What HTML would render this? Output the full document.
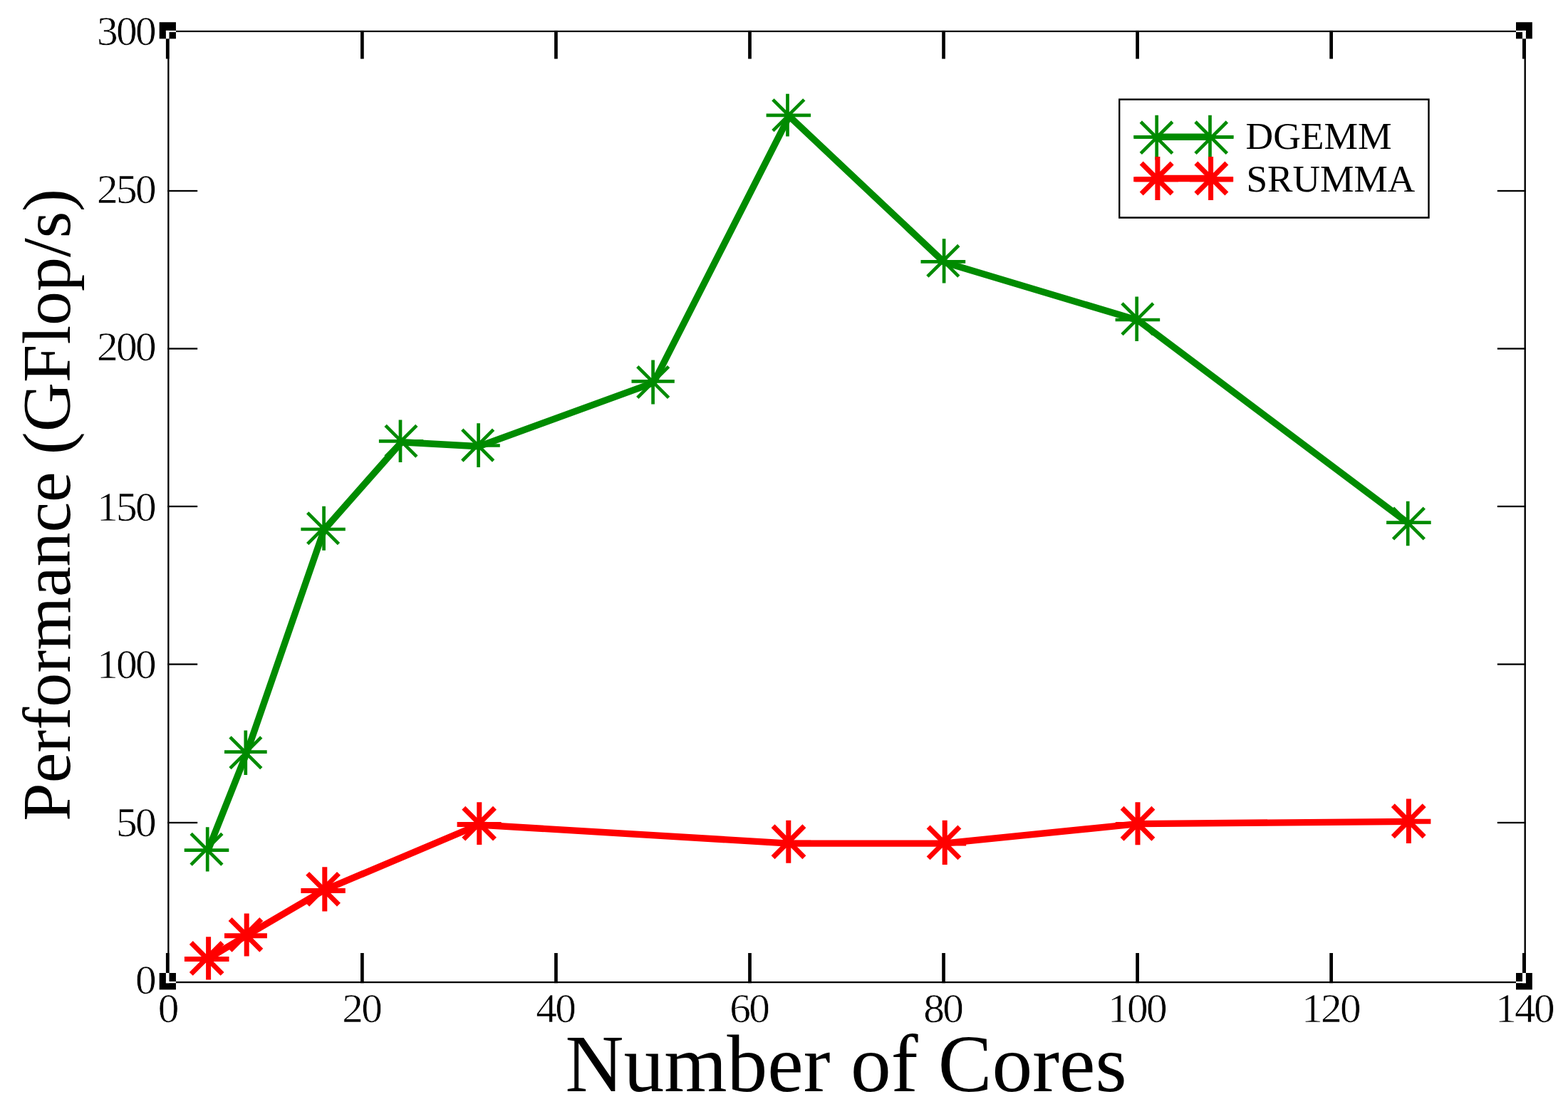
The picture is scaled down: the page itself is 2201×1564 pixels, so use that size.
<!DOCTYPE html>
<html lang="en"><head><meta charset="utf-8"><title>Performance (GFlop/s) vs Number of Cores</title>
<style>html,body{margin:0;padding:0;background:#fff}body{width:2201px;height:1564px}svg{display:block}text{font-family:"Liberation Serif","Times New Roman",Times,serif;fill:#000}</style></head><body>
<svg width="2201" height="1564" viewBox="0 0 2201 1564">
<rect width="2201" height="1564" fill="#fff"/>
<g fill="none" stroke="#008b00" stroke-width="4.7"><polyline points="291.7,1194.4 346.1,1057.6 454.9,743.8 563.7,620.7 672.5,626.7 917.4,537.4 1107.8,163.2 1325.5,368.3 1597.5,449.8 1978.4,735.7" stroke-width="9.4" stroke-linejoin="bevel"/><path d="M258.7 1193.6H321.3M291.2 1161.3V1223.4M268.1 1170.4L311.9 1214.2M268.1 1214.2L311.9 1170.4"/><path d="M315.0 1055.7H374.7M344.8 1025.6V1087.9M323.0 1034.8L366.8 1078.7M323.0 1078.7L366.8 1034.8"/><path d="M422.4 743.0H484.8M454.6 710.8V772.7M431.7 719.9L475.5 763.6M431.7 763.6L475.5 719.9"/><path d="M531.9 619.4H594.2M562.0 589.4V649.1M541.1 597.4L584.9 641.1M541.1 641.1L584.9 597.4"/><path d="M639.6 625.5H701.8M671.6 594.2V656.1M648.8 603.2L692.6 647.0M648.8 647.0L692.6 603.2"/><path d="M886.5 535.4H946.8M916.6 505.4V567.6M894.8 514.6L938.6 558.4M894.8 558.4L938.6 514.6"/><path d="M1075.6 161.8H1138.1M1105.5 131.8V191.6M1084.9 139.8L1128.8 183.6M1084.9 183.6L1128.8 139.8"/><path d="M1292.5 367.4H1355.2M1325.1 335.2V397.5M1301.9 344.5L1345.8 388.2M1301.9 388.2L1345.8 344.5"/><path d="M1565.6 449.0H1628.2M1595.7 416.6V478.9M1575.0 425.9L1618.8 469.6M1575.0 469.6L1618.8 425.9"/><path d="M1946.1 733.7H2008.7M1976.2 703.7V766.2M1955.5 713.1L1999.3 756.9M1955.5 756.9L1999.3 713.1"/></g>
<g fill="none" stroke="#ff0000" stroke-width="7.0"><polyline points="291.1,1346.6 345.5,1313.7 454.3,1250.0 671.9,1158.0 1107.2,1184.1 1324.8,1184.1 1596.9,1156.6 1977.8,1153.4" stroke-width="9.4" stroke-linejoin="bevel"/><path d="M258.9 1346.5H321.5M292.6 1315.3V1375.6M268.3 1323.5L312.1 1367.4M268.3 1367.4L312.1 1323.5"/><path d="M315.0 1313.7H374.9M346.2 1282.4V1342.5M323.1 1290.5L366.8 1334.3M323.1 1334.3L366.8 1290.5"/><path d="M422.4 1250.5H484.8M455.8 1217.2V1279.4M431.7 1226.4L475.5 1270.2M431.7 1270.2L475.5 1226.4"/><path d="M641.6 1157.4H703.7M672.8 1126.2V1186.1M650.8 1134.2L694.5 1178.1M650.8 1178.1L694.5 1134.2"/><path d="M1075.8 1183.3H1138.2M1106.8 1151.8V1211.7M1085.1 1159.8L1128.9 1203.7M1085.1 1203.7L1128.9 1159.8"/><path d="M1293.8 1184.0H1356.2M1326.2 1151.8V1214.1M1303.1 1161.0L1346.9 1204.9M1303.1 1204.9L1346.9 1161.0"/><path d="M1565.8 1157.4H1628.2M1597.0 1126.2V1186.3M1575.1 1134.3L1618.9 1178.2M1575.1 1178.2L1618.9 1134.3"/><path d="M1946.1 1153.3H2008.4M1977.4 1121.5V1184.0M1955.3 1130.8L1999.2 1174.7M1955.3 1174.7L1999.2 1130.8"/></g>
<g fill="#000">
<rect x="235.20" y="42.90" width="2.30" height="1337.30" fill="#000"/>
<rect x="2139.50" y="42.90" width="2.40" height="1337.30" fill="#000"/>
<rect x="235.20" y="42.90" width="1906.70" height="2.20" fill="#000"/>
<rect x="235.20" y="1377.90" width="1906.70" height="2.30" fill="#000"/>
<rect x="232.90" y="42.90" width="4.60" height="39.70" fill="#000"/>
<rect x="232.90" y="1338.00" width="4.60" height="42.20" fill="#000"/>
<rect x="506.05" y="42.90" width="4.70" height="39.70" fill="#000"/>
<rect x="506.05" y="1338.00" width="4.70" height="42.20" fill="#000"/>
<rect x="778.10" y="42.90" width="4.70" height="39.70" fill="#000"/>
<rect x="778.10" y="1338.00" width="4.70" height="42.20" fill="#000"/>
<rect x="1050.15" y="42.90" width="4.70" height="39.70" fill="#000"/>
<rect x="1050.15" y="1338.00" width="4.70" height="42.20" fill="#000"/>
<rect x="1322.20" y="42.90" width="4.70" height="39.70" fill="#000"/>
<rect x="1322.20" y="1338.00" width="4.70" height="42.20" fill="#000"/>
<rect x="1594.25" y="42.90" width="4.70" height="39.70" fill="#000"/>
<rect x="1594.25" y="1338.00" width="4.70" height="42.20" fill="#000"/>
<rect x="1866.30" y="42.90" width="4.70" height="39.70" fill="#000"/>
<rect x="1866.30" y="1338.00" width="4.70" height="42.20" fill="#000"/>
<rect x="2137.00" y="42.90" width="4.90" height="39.70" fill="#000"/>
<rect x="2137.00" y="1338.00" width="4.90" height="42.20" fill="#000"/>
<rect x="235.20" y="1153.85" width="42.00" height="2.30" fill="#000"/>
<rect x="2101.80" y="1153.85" width="40.10" height="2.30" fill="#000"/>
<rect x="235.20" y="931.45" width="42.00" height="2.30" fill="#000"/>
<rect x="2101.80" y="931.45" width="40.10" height="2.30" fill="#000"/>
<rect x="235.20" y="709.85" width="42.00" height="2.30" fill="#000"/>
<rect x="2101.80" y="709.85" width="40.10" height="2.30" fill="#000"/>
<rect x="235.20" y="488.35" width="42.00" height="2.30" fill="#000"/>
<rect x="2101.80" y="488.35" width="40.10" height="2.30" fill="#000"/>
<rect x="235.20" y="266.85" width="42.00" height="2.30" fill="#000"/>
<rect x="2101.80" y="266.85" width="40.10" height="2.30" fill="#000"/>
</g>
<g>
<rect x="223.70" y="31.20" width="23.25" height="23.20" fill="#000"/>
<rect x="232.90" y="42.90" width="14.05" height="2.20" fill="#fff"/>
<rect x="232.90" y="42.90" width="4.60" height="11.50" fill="#fff"/>
<rect x="223.70" y="1366.00" width="23.25" height="23.40" fill="#000"/>
<rect x="232.90" y="1377.90" width="14.05" height="2.30" fill="#fff"/>
<rect x="232.90" y="1366.00" width="4.60" height="14.20" fill="#fff"/>
<rect x="2128.00" y="31.20" width="22.85" height="23.20" fill="#000"/>
<rect x="2128.00" y="42.90" width="13.90" height="2.20" fill="#fff"/>
<rect x="2137.00" y="42.90" width="4.90" height="11.50" fill="#fff"/>
<rect x="2128.00" y="1366.00" width="22.85" height="23.40" fill="#000"/>
<rect x="2128.00" y="1377.90" width="13.90" height="2.30" fill="#fff"/>
<rect x="2137.00" y="1366.00" width="4.90" height="14.20" fill="#fff"/>
</g>
<g font-size="54" text-anchor="middle" letter-spacing="-2.45" stroke="#fff" stroke-width="0.6">
<text transform="translate(235.2 1435) scale(1.1 1.065)">0</text>
<text transform="translate(507.2 1435) scale(1.1 1.065)">20</text>
<text transform="translate(779.2 1435) scale(1.1 1.065)">40</text>
<text transform="translate(1051.3 1435) scale(1.1 1.065)">60</text>
<text transform="translate(1323.3 1435) scale(1.1 1.065)">80</text>
<text transform="translate(1595.4 1435) scale(1.1 1.065)">100</text>
<text transform="translate(1867.4 1435) scale(1.1 1.065)">120</text>
<text transform="translate(2139.5 1435) scale(1.1 1.065)">140</text>
</g>
<g font-size="54" text-anchor="end" letter-spacing="-2.45" stroke="#fff" stroke-width="0.6">
<text transform="translate(216.9 1395.1) scale(1.1 1.065)">0</text>
<text transform="translate(216.9 1174.0) scale(1.1 1.065)">50</text>
<text transform="translate(216.9 951.9) scale(1.1 1.065)">100</text>
<text transform="translate(216.9 730.8) scale(1.1 1.065)">150</text>
<text transform="translate(216.9 505.6) scale(1.1 1.065)">200</text>
<text transform="translate(216.9 284.6) scale(1.1 1.065)">250</text>
<text transform="translate(216.9 62.5) scale(1.1 1.065)">300</text>
</g>
<text x="1187.6" y="1531.6" font-size="113.5" text-anchor="middle">Number of Cores</text>
<text transform="translate(97.5 708.8) rotate(-90)" font-size="96" text-anchor="middle">Performance (GFlop/s)</text>
<g>
<rect x="1570.10" y="138.40" width="436.60" height="168.40" fill="#000"/>
<rect x="1572.40" y="140.80" width="431.90" height="163.50" fill="#fff"/>
<path d="M1591.2 192.4H1731.2" stroke="#008b00" stroke-width="4.7" fill="none"/>
<path d="M1623.4 192.3H1699.8" stroke="#008b00" stroke-width="9.4" fill="none"/>
<path d="M1592.1 192.4H1654.9M1623.7 161.8V224.6M1601.3 171.0L1645.7 215.4M1601.3 215.4L1645.7 171.0" stroke="#008b00" stroke-width="4.7" fill="none"/>
<path d="M1668.8 192.4H1731.6M1698.5 161.8V224.6M1678.0 171.0L1722.4 215.4M1678.0 215.4L1722.4 171.0" stroke="#008b00" stroke-width="4.7" fill="none"/>
<path d="M1591.2 251.7H1731.2" stroke="#ff0000" stroke-width="7" fill="none"/>
<path d="M1624 250.4H1700" stroke="#ff0000" stroke-width="9.4" fill="none"/>
<path d="M1593.3 251.7H1654.1M1624.9 220.1V280.9M1602.2 229.0L1645.2 272.0M1602.2 272.0L1645.2 229.0" stroke="#ff0000" stroke-width="7.0" fill="none"/>
<path d="M1670.0 251.7H1730.8M1699.6 220.1V280.9M1678.9 229.0L1721.9 272.0M1678.9 272.0L1721.9 229.0" stroke="#ff0000" stroke-width="7.0" fill="none"/>
<text x="1748.6" y="208.6" font-size="53.5">DGEMM</text>
<text x="1749.4" y="268.6" font-size="53.3">SRUMMA</text>
</g>
</svg></body></html>
